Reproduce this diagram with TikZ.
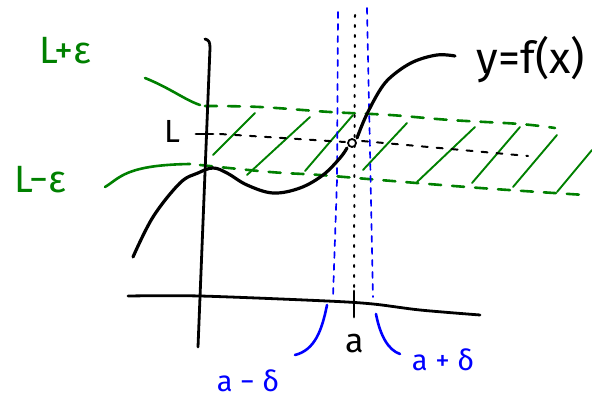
\documentclass[tikz,border=0pt]{standalone}
\usepackage{fontspec}
\setmainfont{Fira Sans}
\definecolor{pgreen}{RGB}{0,128,0}
\definecolor{pblue}{RGB}{0,0,255}
\begin{document}
\begin{tikzpicture}[x=1pt,y=-1pt, line cap=round, line join=round,
  axisline/.style={black, line width=2.8pt},
  curveline/.style={black, line width=3.2pt},
  boundline/.style={pgreen, line width=2.6pt, dash pattern=on 12pt off 11pt},
  leadline/.style={pgreen, line width=2.6pt},
  hatchline/.style={pgreen, line width=1.9pt},
  ldash/.style={black, line width=2pt, dash pattern=on 6pt off 9pt},
  adot/.style={black, line width=2pt, dash pattern=on 2pt off 8pt},
  bdash/.style={pblue, line width=1.7pt, dash pattern=on 6pt off 6pt},
  bcurve/.style={pblue, line width=2.6pt},
  glabel/.style={text=pgreen, font=\fontsize{38}{38}\selectfont, inner sep=0pt},
  blabel/.style={text=pblue, font=\fontsize{29}{29}\selectfont, inner sep=0pt},
  klabel/.style={text=black, inner sep=0pt}]
\useasboundingbox (0,0) rectangle (592,398);

% epsilon band: hatching
\foreach \xa/\ya/\xb/\yb in {213/155/255/113, 247/175/310/117, 305/171/353/115,
   363/170/407/123, 417/182/475/127, 472/183/520/127, 513/187/557/135, 557/192/592/150}
  \draw[hatchline] (\xa,\ya) -- (\xb,\yb);

% green boundary lines
\draw[leadline] (145,78) .. controls (170,88) and (185,100) .. (200,105);
\draw[boundline] plot[smooth, tension=0.6] coordinates {(205,106) (260,107) (330,112) (390,115) (450,120) (520,124) (555,128)};
\draw[leadline] (105,187) .. controls (120,178) and (125,165) .. (190,164);
\draw[boundline] plot[smooth, tension=0.6] coordinates {(200,165) (270,172) (320,175) (380,180) (480,188) (585,195)};

% axes
\draw[axisline] (205,39) .. controls (209,40) and (210,42) .. (210,48) -- (198,347);
\draw[axisline] plot[smooth, tension=0.5] coordinates {(128,296) (200,296) (327,301) (373,304) (420,310) (480,315)};
\draw[axisline] (354,291) -- (354,317);

% delta lines
\draw[adot] (355,15) -- (354,290);
\draw[bdash] (338,12) -- (337,180) -- (333,297);
\draw[bdash] (367,8) -- (370,150) -- (373,297);
\draw[bcurve] (327,305) .. controls (322,330) and (315,350) .. (295,355);
\draw[bcurve] (376,314) .. controls (380,335) and (388,350) .. (400,354);

% L level
\draw[axisline] (196,134) -- (213,134);
\draw[ldash] (220,134) -- (345,142);
\draw[ldash] (362,141) -- (528,156);

% graph of f
\draw[curveline] plot[smooth, tension=0.6] coordinates {(133,257) (153,217) (180,183) (198,173) (213,168) (227,173) (247,185) (273,193) (300,188) (323,175) (340,158) (347,148)};
\draw[curveline] plot[smooth, tension=0.6] coordinates {(357,138) (366,116) (380,90) (392,76) (413,62) (437,55) (455,56)};
\node[draw=black, line width=1.8pt, fill=white, circle, inner sep=0pt, minimum size=8pt] (hole) at (352,143) {};

% labels
\node[glabel] (lplus) at (65,51) {L+ε};
\node[glabel] (lminus) at (40,180) {L−ε};
\node[klabel, font=\fontsize{32}{32}\selectfont] (ll) at (172,131) {L};
\node[klabel, font=\fontsize{44}{44}\selectfont] (fx) at (531,60) {y=f(x)};
\node[klabel, font=\fontsize{34}{34}\selectfont] (la) at (355,344) {a};
\node[blabel] (amd) at (248,381) {a − δ};
\node[blabel] (apd) at (443,360) {a + δ};
\end{tikzpicture}
\end{document}
